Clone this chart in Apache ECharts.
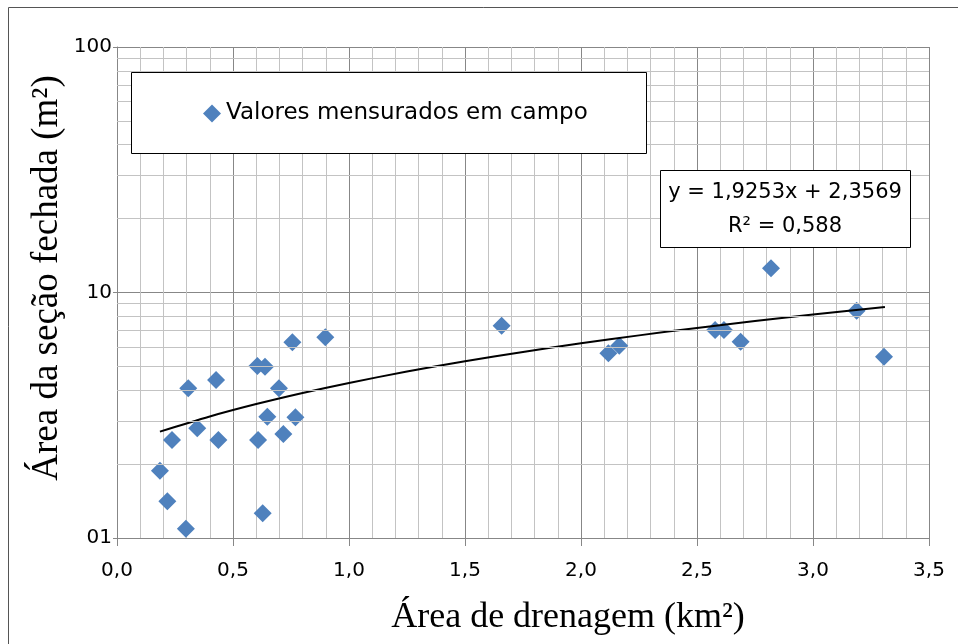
<!DOCTYPE html>
<html>
<head>
<meta charset="utf-8">
<script src="https://cdn.jsdelivr.net/npm/echarts@6/dist/echarts.min.js"></script>
<style>html,body{margin:0;padding:0;background:#fff;}#chart{width:958px;height:644px;}</style>
</head>
<body>
<div id="chart"></div>
<script>
// Measured field values (drainage area km², closed-section area m²)
const areaDrenagem = [0.185, 0.217, 0.297, 0.237, 0.307, 0.346, 0.427, 0.437, 0.605, 0.638, 0.608, 0.628, 0.698, 0.648, 0.717, 0.769, 0.756, 0.898, 1.658, 2.118, 2.165, 2.578, 2.616, 2.688, 2.819, 3.188, 3.306];
const areaSecao    = [1.88, 1.41, 1.09, 2.51, 4.07, 2.80, 4.40, 2.51, 5.02, 4.98, 2.51, 1.26, 4.07, 3.12, 2.65, 3.10, 6.27, 6.57, 7.32, 5.65, 6.07, 7.03, 7.03, 6.30, 12.55, 8.43, 5.48];
// Trend line y = 1,9253x + 2,3569 (values as drawn)
const trendX = [0.185, 0.4, 0.6, 0.8, 1.0, 1.25, 1.5, 1.75, 2.0, 2.25, 2.5, 2.75, 3.0, 3.31];
const trendY = [2.713, 3.127, 3.512, 3.897, 4.282, 4.764, 5.245, 5.726, 6.208, 6.689, 7.170, 7.652, 8.133, 8.730];
const xTickLabels = ['0,0', '0,5', '1,0', '1,5', '2,0', '2,5', '3,0', '3,5'];
const yTickLabels = ['01', '10', '100'];
const yMinorGrid = [2, 3, 4, 5, 6, 7, 8, 9, 20, 30, 40, 50, 60, 70, 80, 90];
const seriesName = 'Valores mensurados em campo';
const eqLine1 = 'y = 1,9253x + 2,3569';
const eqLine2 = 'R² = 0,588';
const xTitle = 'Área de drenagem (km²)';
const yTitle = 'Área da seção fechada (m²)';

const chart = echarts.init(document.getElementById('chart'), null, {renderer: 'canvas'});
const sans = 'DejaVu Sans';
const majorColor = '#878787';
const minorColor = '#c3c3c3';

chart.setOption({
  animation: false,
  backgroundColor: '#fff',
  grid: {left: 117, top: 47, right: 29, bottom: 106, containLabel: false},
  xAxis: {
    type: 'value', min: 0, max: 3.5, interval: 0.5,
    axisLine: {show: true, lineStyle: {color: majorColor, width: 1}},
    axisTick: {show: true, length: 8, inside: false, lineStyle: {color: majorColor}},
    axisLabel: {
      margin: 23, fontFamily: sans, fontSize: 20, color: '#000',
      formatter: v => xTickLabels[Math.round(v / 0.5)]
    },
    splitLine: {show: true, lineStyle: {color: majorColor, width: 1}},
    minorTick: {show: false, splitNumber: 5},
    minorSplitLine: {show: true, lineStyle: {color: minorColor, width: 1}}
  },
  yAxis: {
    type: 'log', logBase: 10, min: 1, max: 100,
    axisLine: {show: true, lineStyle: {color: majorColor, width: 1}},
    axisTick: {show: true, length: 4, lineStyle: {color: majorColor}},
    axisLabel: {
      margin: 5, fontFamily: sans, fontSize: 20, color: '#000',
      formatter: v => yTickLabels[Math.round(Math.log10(v))]
    },
    splitLine: {show: true, lineStyle: {color: majorColor, width: 1}}
  },
  legend: {
    show: true, data: [seriesName], left: 203, top: 102, padding: 0, z: 100,
    icon: 'diamond', itemWidth: 18, itemHeight: 18, itemGap: 6,
    itemStyle: {opacity: 1},
    textStyle: {fontFamily: sans, fontSize: 23, color: '#000'}
  },
  series: [
    {
      name: 'grid-minor', type: 'line', data: [], z: 1, silent: true,
      markLine: {
        silent: true, symbol: ['none', 'none'], animation: false,
        label: {show: false},
        lineStyle: {type: 'solid', color: minorColor, width: 1},
        emphasis: {disabled: true},
        data: yMinorGrid.map(v => ({yAxis: v}))
      }
    },
    {
      name: seriesName, type: 'scatter', z: 3,
      symbol: 'diamond', symbolSize: [18, 18],
      itemStyle: {color: '#4F81BD', opacity: 1},
      data: areaDrenagem.map((x, i) => [x, areaSecao[i]])
    },
    {
      name: 'trend', type: 'line', z: 4, smooth: 0.3, showSymbol: false,
      lineStyle: {color: '#000', width: 2},
      data: trendX.map((x, i) => [x, trendY[i]])
    }
  ],
  graphic: [
    {type: 'rect', z: 0, silent: true, shape: {x: 8.5, y: 7.5, width: 1000, height: 1000},
     style: {fill: null, stroke: '#555', lineWidth: 1}},
    {type: 'rect', z: 50, silent: true, shape: {x: 131.5, y: 72.5, width: 515, height: 81},
     style: {fill: '#fff', stroke: '#000', lineWidth: 1}},
    {type: 'rect', z: 50, silent: true, shape: {x: 660.5, y: 170.5, width: 250, height: 77},
     style: {fill: '#fff', stroke: '#000', lineWidth: 1}},
    {type: 'text', z: 51, silent: true, x: 785, y: 193,
     style: {text: eqLine1, font: '21px "DejaVu Sans"', fill: '#000', textAlign: 'center', textVerticalAlign: 'middle'}},
    {type: 'text', z: 51, silent: true, x: 785, y: 227,
     style: {text: eqLine2, font: '21px "DejaVu Sans"', fill: '#000', textAlign: 'center', textVerticalAlign: 'middle'}},
    {type: 'text', z: 51, silent: true, x: 568, y: 618,
     style: {text: xTitle, font: '36px "Liberation Serif"', fill: '#000', textAlign: 'center', textVerticalAlign: 'middle'}},
    {type: 'text', z: 51, silent: true, x: 47, y: 278, rotation: Math.PI / 2,
     style: {text: yTitle, font: '37px "Liberation Serif"', fill: '#000', textAlign: 'center', textVerticalAlign: 'middle'}}
  ]
});
</script>
</body>
</html>
